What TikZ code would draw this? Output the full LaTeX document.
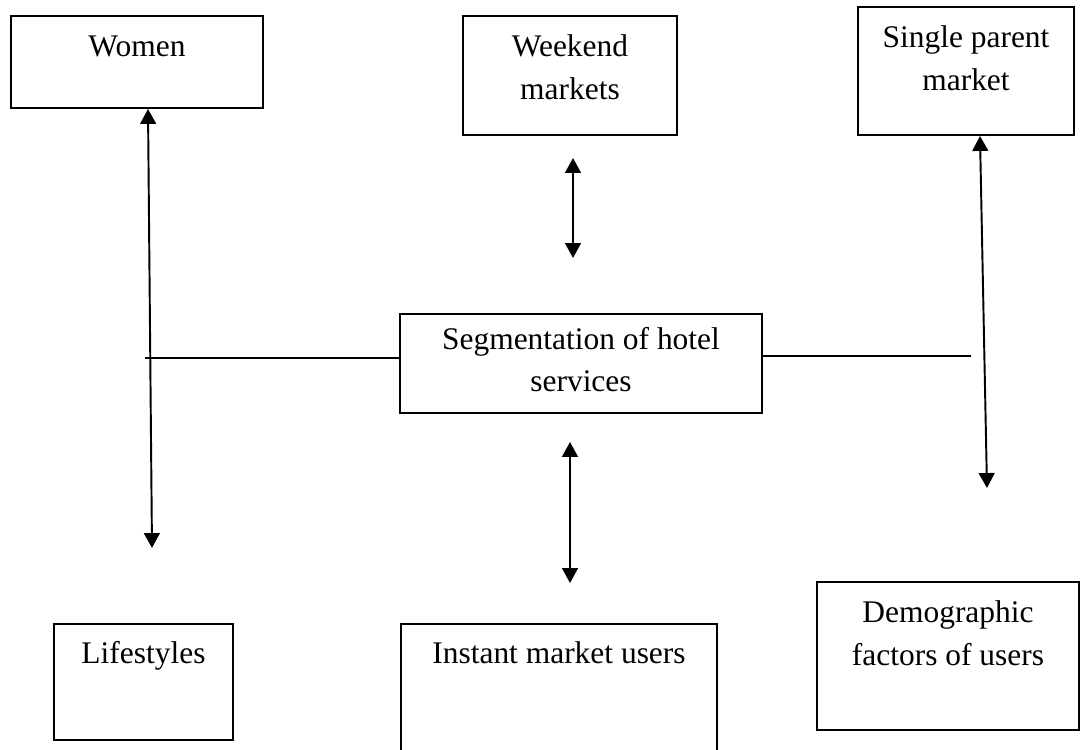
\documentclass[tikz,border=0pt]{standalone}
\usepackage{fontspec}
\setmainfont{Liberation Serif}
\usepackage{tikz}
\usetikzlibrary{arrows.meta,positioning,fit,calc}
\tikzset{
	box/.style  = {rectangle,draw=black,line width=1.1pt,inner sep=0pt},
	lbl/.style  = {anchor=north,inner sep=0pt,align=center,
		font=\fontsize{17.9pt}{24.4pt}\selectfont},
	dbl/.style  = {{Triangle[width=9pt,length=8.5pt]}-{Triangle[width=9pt,length=8.5pt]},
		line width=1.1pt},
	ln/.style   = {line width=1.1pt},
}
\begin{document}
\begin{tikzpicture}[x=0.02cm,y=-0.02cm]
	\clip (0,0) rectangle (1083,750);
	%% Boxes
	\node (women)   [box,fit={(11,16) (263,108)}] {};
	\node (weekend) [box,fit={(463,16) (677,135)}] {};
	\node (single)  [box,fit={(858,7) (1074,135)}] {};
	\node (seg)     [box,fit={(400,314) (762,413)}] {};
	\node (life)    [box,fit={(54,624) (233,740)}] {};
	\node (instant) [box,fit={(401,624) (717,780)}] {};
	\node (demog)   [box,fit={(817,582) (1079,730)}] {};
	
	%% Texts
	\node (womentxt)   [lbl] at ($(women.north)+(0,21)$) {Women};
	\node (weekendtxt) [lbl] at ($(weekend.north)+(0,19.5)$) {Weekend\\markets};
	\node (singletxt)  [lbl] at ($(single.north)+(0,19.5)$) {Single parent\\market};
	\node (segtxt)     [lbl] at ($(seg.north)+(0,13.5)$) {Segmentation of hotel\\services};
	\node (lifetxt)    [lbl] at ($(life.north)+(0,17.5)$) {Lifestyles};
	\node (instanttxt) [lbl] at ($(instant.north)+(0,18)$) {Instant market users};
	\node (demogtxt)   [lbl] at ($(demog.north)+(0,19.5)$) {Demographic\\factors of users};
	
	%% Free ends
	\coordinate (wend) at (152,548);
	\coordinate (wk1)  at (573,158);
	\coordinate (wk2)  at (573,258);
	\coordinate (in1)  at (570,442);
	\coordinate (in2)  at (570,583);
	\coordinate (send) at (987,488);
	\coordinate (hl)   at (145,358);
	\coordinate (hr)   at (971,356);
	
	%% Arrows
	\draw[dbl] ($(women.south)+(11,0)$)--(wend);
	\draw[dbl] (wk1)--(wk2);
	\draw[dbl] (in1)--(in2);
	\draw[dbl] ($(single.south)+(14,0)$)--(send);
	\draw[ln] (hl)--(seg.west |- hl);
	\draw[ln] (seg.east |- hr)--(hr);
\end{tikzpicture}
\end{document}
